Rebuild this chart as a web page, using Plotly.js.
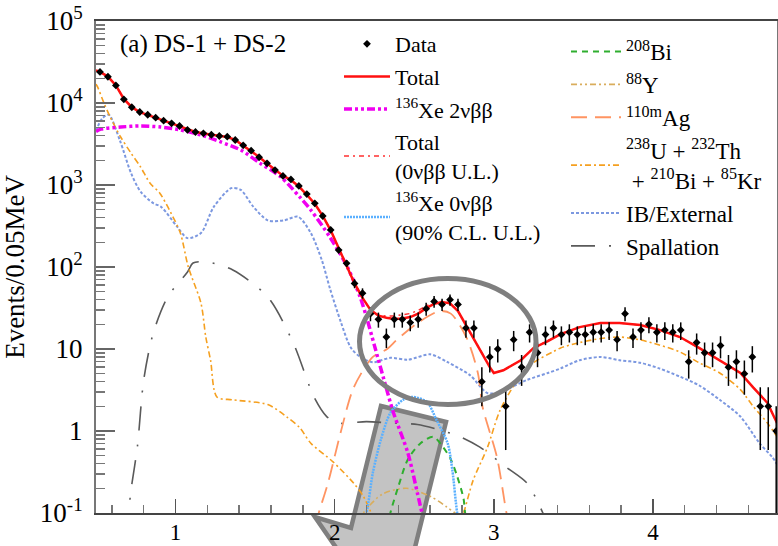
<!DOCTYPE html>
<html>
<head>
<meta charset="utf-8">
<script src="https://cdn.plot.ly/plotly-3.0.1.min.js"></script>
<style>
  html, body { margin: 0; padding: 0; background: #fff; }
  #chart { width: 778px; height: 546px; }
</style>
</head>
<body>
<div id="chart"></div>
<script>
// Measured spectrum: bin centres (MeV) and events per 0.05 MeV bin
const dataEnergy = [
  0.525, 0.575, 0.625, 0.675, 0.725, 0.775, 0.825, 0.875, 0.925, 0.975,
  1.025, 1.075, 1.125, 1.175, 1.225, 1.275, 1.325, 1.375, 1.425, 1.475,
  1.525, 1.575, 1.625, 1.675, 1.725, 1.775, 1.825, 1.875, 1.925, 1.975,
  2.025, 2.075, 2.125, 2.175, 2.225, 2.275, 2.325, 2.375, 2.425, 2.475,
  2.525, 2.575, 2.625, 2.675, 2.725, 2.775, 2.825, 2.875, 2.925, 2.975,
  3.025, 3.075, 3.125, 3.175, 3.225, 3.275, 3.325, 3.375, 3.425, 3.475,
  3.525, 3.575, 3.625, 3.675, 3.725, 3.775, 3.825, 3.875, 3.925, 3.975,
  4.025, 4.075, 4.125, 4.175, 4.225, 4.275, 4.325, 4.375, 4.425, 4.475,
  4.525, 4.575, 4.625, 4.675, 4.725, 4.775
];
const dataCounts = [
  23900, 20900, 16400, 11100, 8870, 7770, 7190, 6620, 6090, 5650,
  5240, 4690, 4430, 4270, 4100, 3960, 3880, 3540, 3050, 2620,
  2180, 1840, 1520, 1290, 1170, 973, 776, 598, 419, 283,
  161, 111, 63, 48, 27, 23, 14, 23, 23, 21,
  23, 31, 38, 35, 40, 35, 18, 18, 4, 8,
  10, 2, 13, 6, 16, 9, 15, 18, 15, 16,
  15, 15, 16, 16, 17, 13, 27, 14, 17, 20,
  16, 17, 16, 17, 7, 12, 9, 9, 11, 6,
  7, 5, 8, 2, 2, 1
];

// Best-fit total
const totalEnergy = [
  0.5, 0.525, 0.575, 0.625, 0.675, 0.725, 0.775, 0.825, 0.875, 0.925,
  0.975, 1.025, 1.075, 1.125, 1.175, 1.225, 1.275, 1.325, 1.375, 1.425,
  1.475, 1.525, 1.575, 1.625, 1.675, 1.725, 1.775, 1.825, 1.875, 1.925,
  1.975, 2.025, 2.075, 2.125, 2.175, 2.225, 2.275, 2.325, 2.375, 2.425,
  2.475, 2.525, 2.575, 2.625, 2.675, 2.725, 2.775, 2.825, 2.875, 2.925,
  2.975, 3.0, 3.06, 3.17, 3.25, 3.34, 3.42, 3.54, 3.67, 3.79,
  3.92, 4.04, 4.17, 4.29, 4.42, 4.55, 4.63, 4.72, 4.78
];
const totalCounts = [
  25000, 23900, 21000, 16400, 11200, 8900, 7750, 7150, 6600, 6100,
  5650, 5200, 4750, 4450, 4250, 4100, 3950, 3850, 3550, 3050,
  2600, 2200, 1830, 1530, 1300, 1150, 960, 760, 590, 420,
  280, 170, 105, 63, 42, 30, 25.5, 24, 23.2, 23.5,
  24.5, 27, 31.5, 35.5, 37.4, 36, 29, 19.5, 13.5, 9,
  6, 5.1, 5.5, 7.3, 10.3, 12.5, 15.2, 18.5, 20.7, 20.7,
  19.6, 17.1, 14, 10.3, 7.3, 5.1, 3.4, 2.2, 1.25
];
// Total with the 0nbb upper limit added
const totalULCounts = [
  25000, 23900, 21000, 16400, 11200, 8900, 7750, 7150, 6600, 6100,
  5650, 5200, 4750, 4450, 4250, 4100, 3950, 3850, 3550, 3050,
  2600, 2200, 1830, 1530, 1300, 1150, 960, 760, 590, 420,
  280, 170, 105, 63, 42, 30, 25.9, 25.2, 25.3, 26,
  27.1, 29.5, 33.5, 37, 38.3, 36.5, 29.2, 19.5, 13.5, 9,
  6, 5.1, 5.5, 7.3, 10.3, 12.5, 15.2, 18.5, 20.7, 20.7,
  19.6, 17.1, 14, 10.3, 7.3, 5.1, 3.4, 2.2, 1.25
];

// 136Xe 2nbb
const xe2nuEnergy = [0.5, 0.53, 0.655, 0.78, 0.906, 1.03, 1.16, 1.28, 1.41, 1.53, 1.66, 1.78, 1.85, 1.97, 2.08, 2.16, 2.2, 2.25, 2.31, 2.37, 2.46, 2.52, 2.56];
const xe2nuCounts = [4500, 4800, 5090, 5250, 5090, 4690, 4075, 3370, 2670, 1850, 1260, 715, 495, 232, 100, 43, 24.5, 11, 4.2, 1.66, 0.54, 0.175, 0.08];

// 136Xe 0nbb (90% C.L. upper limit)
const xe0nuEnergy = [2.15, 2.2, 2.24, 2.29, 2.35, 2.43, 2.49, 2.58, 2.64, 2.71, 2.74, 2.77, 2.8];
const xe0nuCounts = [0.05, 0.1, 0.31, 0.78, 1.66, 2.4, 2.6, 2.26, 1.36, 0.71, 0.33, 0.1, 0.05];

// 208Bi
const bi208Energy = [2.32, 2.35, 2.4, 2.46, 2.54, 2.62, 2.68, 2.73, 2.77, 2.81, 2.82, 2.85];
const bi208Counts = [0.05, 0.1, 0.21, 0.45, 0.71, 0.85, 0.64, 0.45, 0.28, 0.15, 0.1, 0.05];

// 88Y
const y88Energy = [2.1, 2.18, 2.3, 2.45, 2.6, 2.7, 2.78, 2.85];
const y88Counts = [0.05, 0.1, 0.17, 0.2, 0.16, 0.12, 0.09, 0.05];

// 110mAg
const ag110Energy = [1.88, 1.9, 1.96, 2.04, 2.12, 2.24, 2.33, 2.39, 2.52, 2.66, 2.73, 2.83, 2.9, 2.93, 3.02, 3.08, 3.1];
const ag110Counts = [0.07, 0.1, 0.24, 1.0, 3.4, 8, 10, 12.9, 20.7, 29, 27, 13.6, 5.1, 1.95, 0.48, 0.1, 0.07];

// 238U + 232Th + 210Bi + 85Kr
const uthEnergy = [
  0.5, 0.51, 0.55, 0.59, 0.655, 0.72, 0.78, 0.84, 0.9, 0.97,
  1.03, 1.08, 1.16, 1.19, 1.22, 1.26, 1.36, 1.58, 1.7, 1.78,
  1.85, 1.99, 2.12, 2.18, 2.24, 2.3, 2.75, 2.81, 2.87, 2.96,
  3.04, 3.15, 3.25, 3.37, 3.42, 3.54, 3.67, 3.79, 3.92, 4.04,
  4.17, 4.29, 4.42, 4.55, 4.63, 4.72, 4.79
];
const uthCounts = [
  17000, 15700, 10000, 6700, 3850, 2450, 1660, 1050, 800, 460,
  260, 100, 36, 14, 7.3, 2.6, 2.4, 2.1, 1.48, 1.1,
  0.71, 0.42, 0.23, 0.16, 0.09, 0.05, 0.05, 0.1, 0.25, 0.63,
  1.8, 4.2, 6.8, 9.2, 10.3, 12, 13.4, 14, 12.9, 11.2,
  9.2, 6.8, 5.1, 3.2, 2.0, 1.25, 0.8
];

// IB / External
const ibEnergy = [
  0.5, 0.54, 0.58, 0.65, 0.72, 0.78, 0.86, 0.91, 1.01, 1.075,
  1.16, 1.24, 1.35, 1.41, 1.49, 1.58, 1.68, 1.77, 1.85, 1.92,
  1.97, 2.04, 2.1, 2.16, 2.24, 2.35, 2.46, 2.6, 2.71, 2.85,
  2.96, 3.04, 3.21, 3.34, 3.42, 3.54, 3.67, 3.79, 3.92, 4.04,
  4.17, 4.29, 4.42, 4.55, 4.67, 4.75, 4.79
];
const ibCounts = [
  4600, 6500, 7200, 3500, 1400, 830, 600, 540, 310, 225,
  260, 540, 915, 870, 540, 370, 370, 410, 260, 120,
  55, 21, 10.5, 8.0, 6.9, 7.8, 7.4, 8.6, 6.9, 4.8,
  2.9, 3.0, 4.2, 5.1, 5.8, 7.3, 8.0, 7.3, 6.8, 5.8,
  4.6, 3.6, 2.4, 1.5, 0.71, 0.48, 0.37
];

// Spallation
const spallEnergy = [0.69, 0.705, 0.72, 0.76, 0.8, 0.86, 0.95, 1.075, 1.11, 1.2, 1.36, 1.58, 1.74, 1.87, 1.95, 2.02, 2.2, 2.35, 2.52, 2.66, 2.79, 2.91, 3.08, 3.21, 3.29, 3.33];
const spallCounts = [0.05, 0.1, 0.19, 0.64, 4.2, 15.7, 43, 87, 112, 115, 92, 43, 11.8, 2.6, 1.5, 1.25, 1.3, 1.25, 1.2, 1.03, 0.85, 0.64, 0.36, 0.23, 0.12, 0.08];

// Axis tick labels
const yTickVals = [0.1, 1, 10, 100, 1000, 10000, 100000];
const yTickText = ['10<sup>-1</sup>', '1', '10', '10<sup>2</sup>', '10<sup>3</sup>', '10<sup>4</sup>', '10<sup>5</sup>'];
const xTickVals = [1, 2, 3, 4];
const xTickText = ['1', '2', '3', '4'];

const SERIF = 'Liberation Serif, Times New Roman, serif';

function curve(name, x, y, color, width, dash, legendId, rank, smooth) {
  return {
    type: 'scatter', mode: 'lines', name: name, x: x, y: y,
    line: { color: color, width: width, dash: dash, shape: smooth ? 'spline' : 'linear', smoothing: 0.8 },
    legend: legendId, legendgroup: name, legendrank: rank, hoverinfo: 'skip'
  };
}

const traces = [
  curve('Spallation', spallEnergy, spallCounts, '#5a5a5a', 1.6, '24px,14px,2px,14px', 'legend2', 6, true),
  curve('IB/External', ibEnergy, ibCounts, '#7c98e0', 2, '3px,2px', 'legend2', 5, true),
  curve('<sup>238</sup>U + <sup>232</sup>Th<br> + <sup>210</sup>Bi + <sup>85</sup>Kr', uthEnergy, uthCounts, '#f5a020', 1.6, '6px,3px,2px,3px', 'legend2', 4, true),
  curve('<sup>110m</sup>Ag', ag110Energy, ag110Counts, '#ff9462', 1.8, '16px,8px', 'legend2', 3, true),
  curve('<sup>88</sup>Y', y88Energy, y88Counts, '#d9ad5c', 1.6, '6px,3px,2px,3px,2px,3px', 'legend2', 2, true),
  curve('<sup>208</sup>Bi', bi208Energy, bi208Counts, '#2fae2f', 2, '6px,5px', 'legend2', 1, true),
  curve('<sup>136</sup>Xe 0νββ<br>(90% C.L. U.L.)', xe0nuEnergy, xe0nuCounts, '#5ab0ff', 2.5, '2px,1px', 'legend', 5, true),
  curve('Total<br>(0νββ U.L.)', totalEnergy, totalULCounts, '#ff3030', 1.5, '5px,4px,2px,4px', 'legend', 4, false),
  curve('<sup>136</sup>Xe 2νββ', xe2nuEnergy, xe2nuCounts, '#f000f0', 3.5, '8px,3px,3px,3px,3px,3px', 'legend', 3, true),
  curve('Total', totalEnergy, totalCounts, '#ff1010', 2.5, 'solid', 'legend', 2, false),
  {
    type: 'scatter', mode: 'markers', name: 'Data', x: dataEnergy, y: dataCounts,
    marker: { symbol: 'diamond', size: 6, color: '#000' },
    error_y: { type: 'sqrt', color: '#000', thickness: 1.5, width: 0 },
    legend: 'legend', legendgroup: 'Data', legendrank: 1, hoverinfo: 'skip'
  }
];

// minor ticks at 2..9 within each decade
const yMinor = [];
for (let e = -1; e < 5; e++) {
  for (let m = 2; m <= 9; m++) yMinor.push(m * Math.pow(10, e));
}

// paper coordinates for the plot frame (left 96, right 777, top 21, bottom 513)
const px = v => (v - 96) / 681;
const py = v => (513 - v) / 492;

const layout = {
  width: 778, height: 546,
  margin: { l: 96, r: 1, t: 21, b: 33, pad: 0 },
  paper_bgcolor: '#fff', plot_bgcolor: '#fff',
  showlegend: true,
  font: { family: SERIF, color: '#000' },
  xaxis: {
    range: [0.5, 4.78], showgrid: false, zeroline: false,
    tickmode: 'array', tickvals: xTickVals, ticktext: xTickText,
    ticks: 'inside', ticklen: 14, tickwidth: 1.5, tickcolor: '#555',
    minor: { dtick: 0.2, tick0: 0, ticks: 'inside', ticklen: 8, tickwidth: 1.5, tickcolor: '#777', showgrid: false },
    showline: true, linecolor: '#444', linewidth: 2, mirror: true,
    tickfont: { family: SERIF, size: 23, color: '#000' },
    ticklabelstandoff: -3
  },
  yaxis: {
    type: 'log', range: [-1, 5], showgrid: false, zeroline: false,
    tickmode: 'array', tickvals: yTickVals, ticktext: yTickText,
    ticks: 'inside', ticklen: 19, tickwidth: 1.5, tickcolor: '#666',
    minor: { tickmode: 'array', tickvals: yMinor, ticks: 'inside', ticklen: 9, tickwidth: 1.5, tickcolor: '#777', showgrid: false },
    showline: true, linecolor: '#777', linewidth: 2, mirror: true,
    tickfont: { family: SERIF, size: 27, color: '#000' },
    ticklabelstandoff: 6,
    title: { text: 'Events/0.05MeV', font: { family: SERIF, size: 27, color: '#000' }, standoff: 10 }
  },
  legend: {
    x: px(339), y: py(23), xanchor: 'left', yanchor: 'top',
    bgcolor: 'rgba(0,0,0,0)', borderwidth: 0,
    font: { family: SERIF, size: 22, color: '#000' },
    tracegroupgap: 1, itemwidth: 46, traceorder: 'grouped'
  },
  legend2: {
    x: px(566), y: py(30), xanchor: 'left', yanchor: 'top',
    bgcolor: 'rgba(0,0,0,0)', borderwidth: 0,
    font: { family: SERIF, size: 23, color: '#000' },
    itemwidth: 50, traceorder: 'normal'
  },
  annotations: [{
    xref: 'paper', yref: 'paper', x: px(118), y: py(44), xanchor: 'left', yanchor: 'middle',
    text: '(a) DS-1 + DS-2', showarrow: false, font: { family: SERIF, size: 25, color: '#000' }
  }],
  shapes: [
    {
      // highlighted arrow pointing at the 2.2-2.8 MeV region
      type: 'path', xref: 'paper', yref: 'paper', layer: 'below',
      path: 'M' + px(381) + ',' + py(406) + ' L' + px(446) + ',' + py(422) +
            ' L' + px(402) + ',' + py(600) + ' L' + px(386) + ',' + py(620) +
            ' L' + px(315) + ',' + py(517) + ' L' + px(351) + ',' + py(528) + ' Z',
      fillcolor: '#c3c3c3', line: { color: '#7f7f7f', width: 4.5 }
    },
    {
      // ellipse around the 110mAg peak region
      type: 'circle', xref: 'paper', yref: 'paper', layer: 'above',
      x0: px(359.5), x1: px(536), y0: py(404.5), y1: py(278.5),
      line: { color: '#7f7f7f', width: 5 }
    }
  ]
};

Plotly.newPlot('chart', traces, layout, { displayModeBar: false, staticPlot: true });
</script>
</body>
</html>
